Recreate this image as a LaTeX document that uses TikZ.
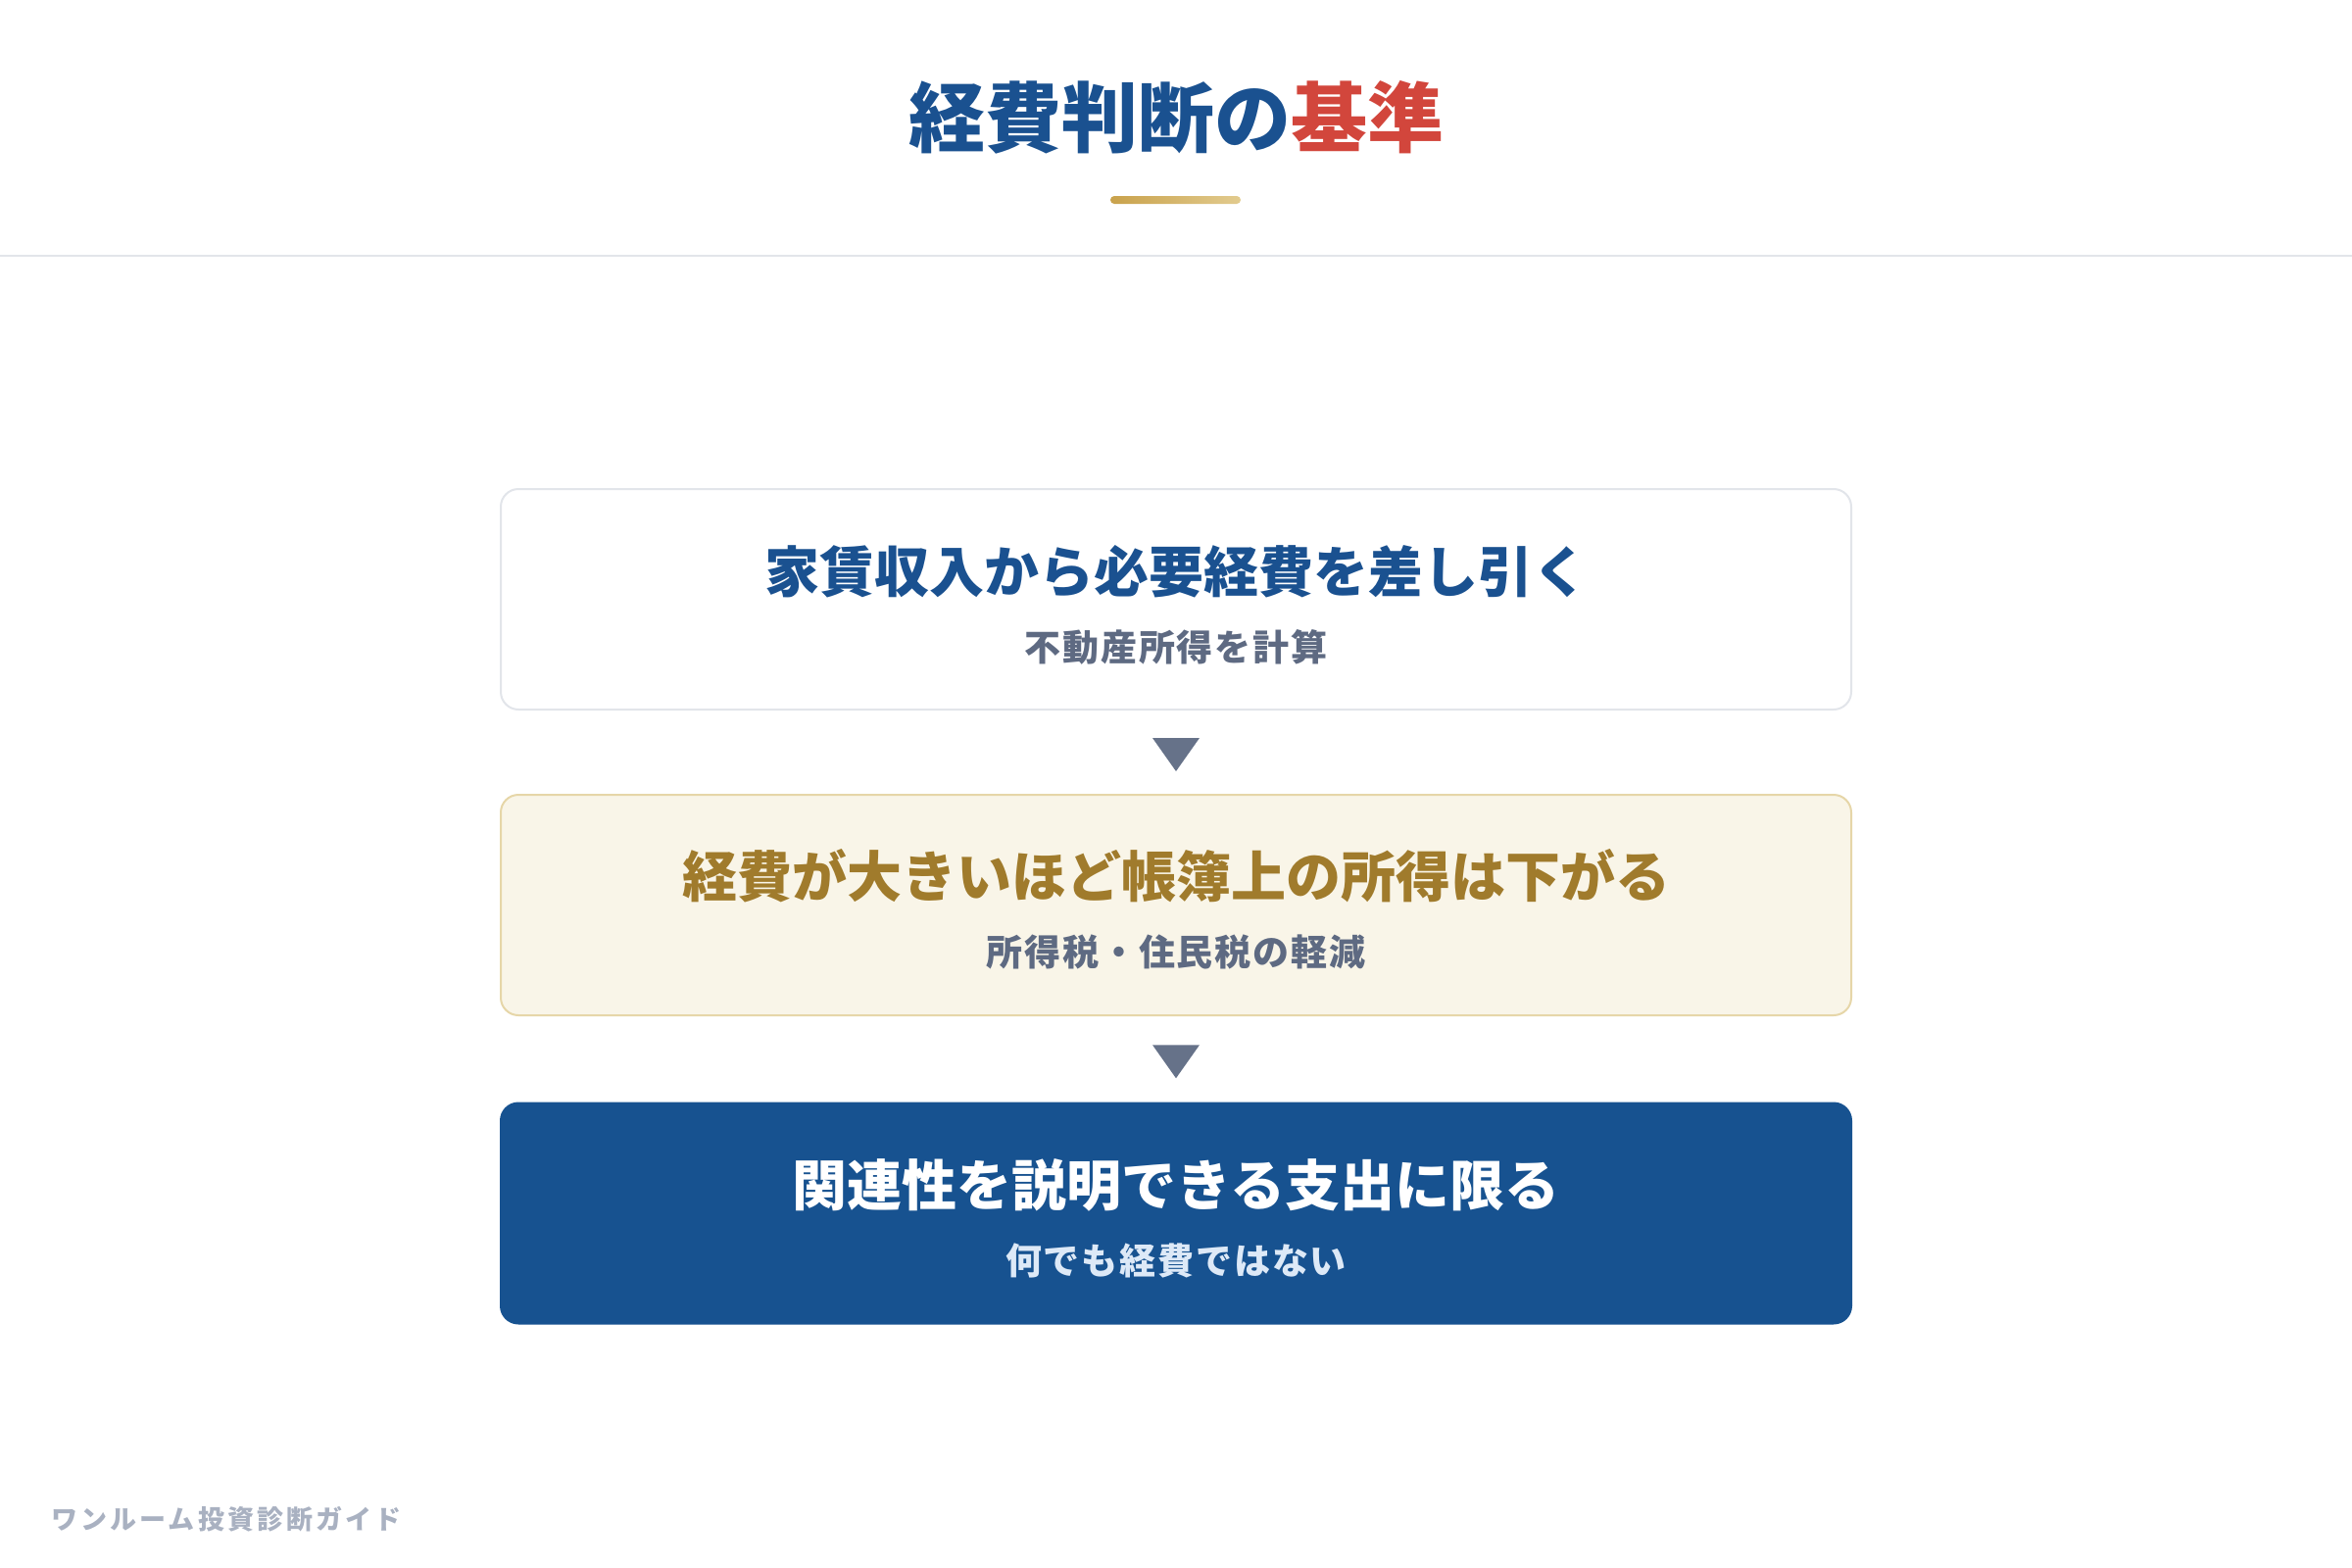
\documentclass[tikz,border=0pt]{standalone}
\usepackage{fontspec}
\setmainfont{Noto Sans CJK JP}
\newfontfamily\headfont{Noto Sans CJK JP}
\newfontfamily\cardfont{Noto Sans CJK JP}
\newfontfamily\notefont{Noto Sans CJK JP}[LetterSpace=5]
\newfontfamily\footfont{Noto Sans CJK JP}[LetterSpace=11.5]
\usetikzlibrary{calc}

\definecolor{keyblue}{HTML}{1A5190}
\definecolor{keyred}{HTML}{D2463C}
\definecolor{goldtext}{HTML}{A07B2C}
\definecolor{goldlo}{HTML}{C9A24C}
\definecolor{goldhi}{HTML}{E2CB8E}
\definecolor{notegray}{HTML}{5E6A82}
\definecolor{cream}{HTML}{F9F5E8}
\definecolor{creamline}{HTML}{E6D6A8}
\definecolor{paleline}{HTML}{E2E5EA}
\definecolor{navyfill}{HTML}{175290}
\definecolor{navynote}{HTML}{DDE9F7}
\definecolor{arrowgray}{HTML}{667289}
\definecolor{footgray}{HTML}{A9B1C1}

\tikzset{
  card/.style={rectangle, rounded corners=9pt, line width=1pt,
    minimum width=689pt, minimum height=112.5pt, inner sep=0pt},
  cardhead/.style={font=\cardfont\bfseries\fontsize{28}{34}\selectfont},
  cardnote/.style={font=\notefont\bfseries\fontsize{18.5}{22}\selectfont},
}

\begin{document}
\begin{tikzpicture}[x=0.5pt,y=-0.5pt]
  \useasboundingbox (0,0) rectangle (2400,1600);
  % heading
  \node[font=\headfont\bfseries\fontsize{39}{46}\selectfont, text=keyblue] (title) at (1200,120) {経費判断の\textcolor{keyred}{基準}};
  \shade[left color=goldlo, right color=goldhi, rounded corners=2pt] (1133,200) rectangle (1266,208);
  \draw[paleline, line width=1pt] (0,261) -- (2400,261);

  % three steps
  \node[card, draw=paleline, fill=white] (card1) at (1200,611.5) {};
  \node[card, draw=creamline, fill=cream] (card2) at (1200,923.5) {};
  \node[card, draw=navyfill, fill=navyfill] (card3) at (1200,1238) {};

  \node[cardhead, text=keyblue] (head1) at (1200,583) {家賃収入から必要経費を差し引く};
  \node[cardnote, text=notegray] (note1) at (1200,660) {不動産所得を計算};
  \node[cardhead, text=goldtext] (head2) at (1200,894) {経費が大きいほど帳簿上の所得は下がる};
  \node[cardnote, text=notegray] (note2) at (1200,971) {所得税・住民税の軽減};
  \node[cardhead, text=white] (head3) at (1200,1209) {関連性を説明できる支出に限る};
  \node[cardnote, text=navynote] (note3) at (1200,1286) {何でも経費ではない};

  % arrows between steps
  \coordinate (gap1) at ($(card1.south)!0.5!(card2.north)$);
  \coordinate (gap2) at ($(card2.south)!0.5!(card3.north)$);
  \foreach \g in {gap1,gap2} {
    \fill[arrowgray] (\g) ++(-24,-14.5) -- ++(48,0) -- ++(-24,34) -- cycle;
  }

  % footer
  \node[anchor=west, inner sep=0pt, font=\footfont\bfseries\fontsize{13.5}{16}\selectfont, text=footgray] (footer) at (52,1550) {ワンルーム投資診断ガイド};
\end{tikzpicture}
\end{document}
